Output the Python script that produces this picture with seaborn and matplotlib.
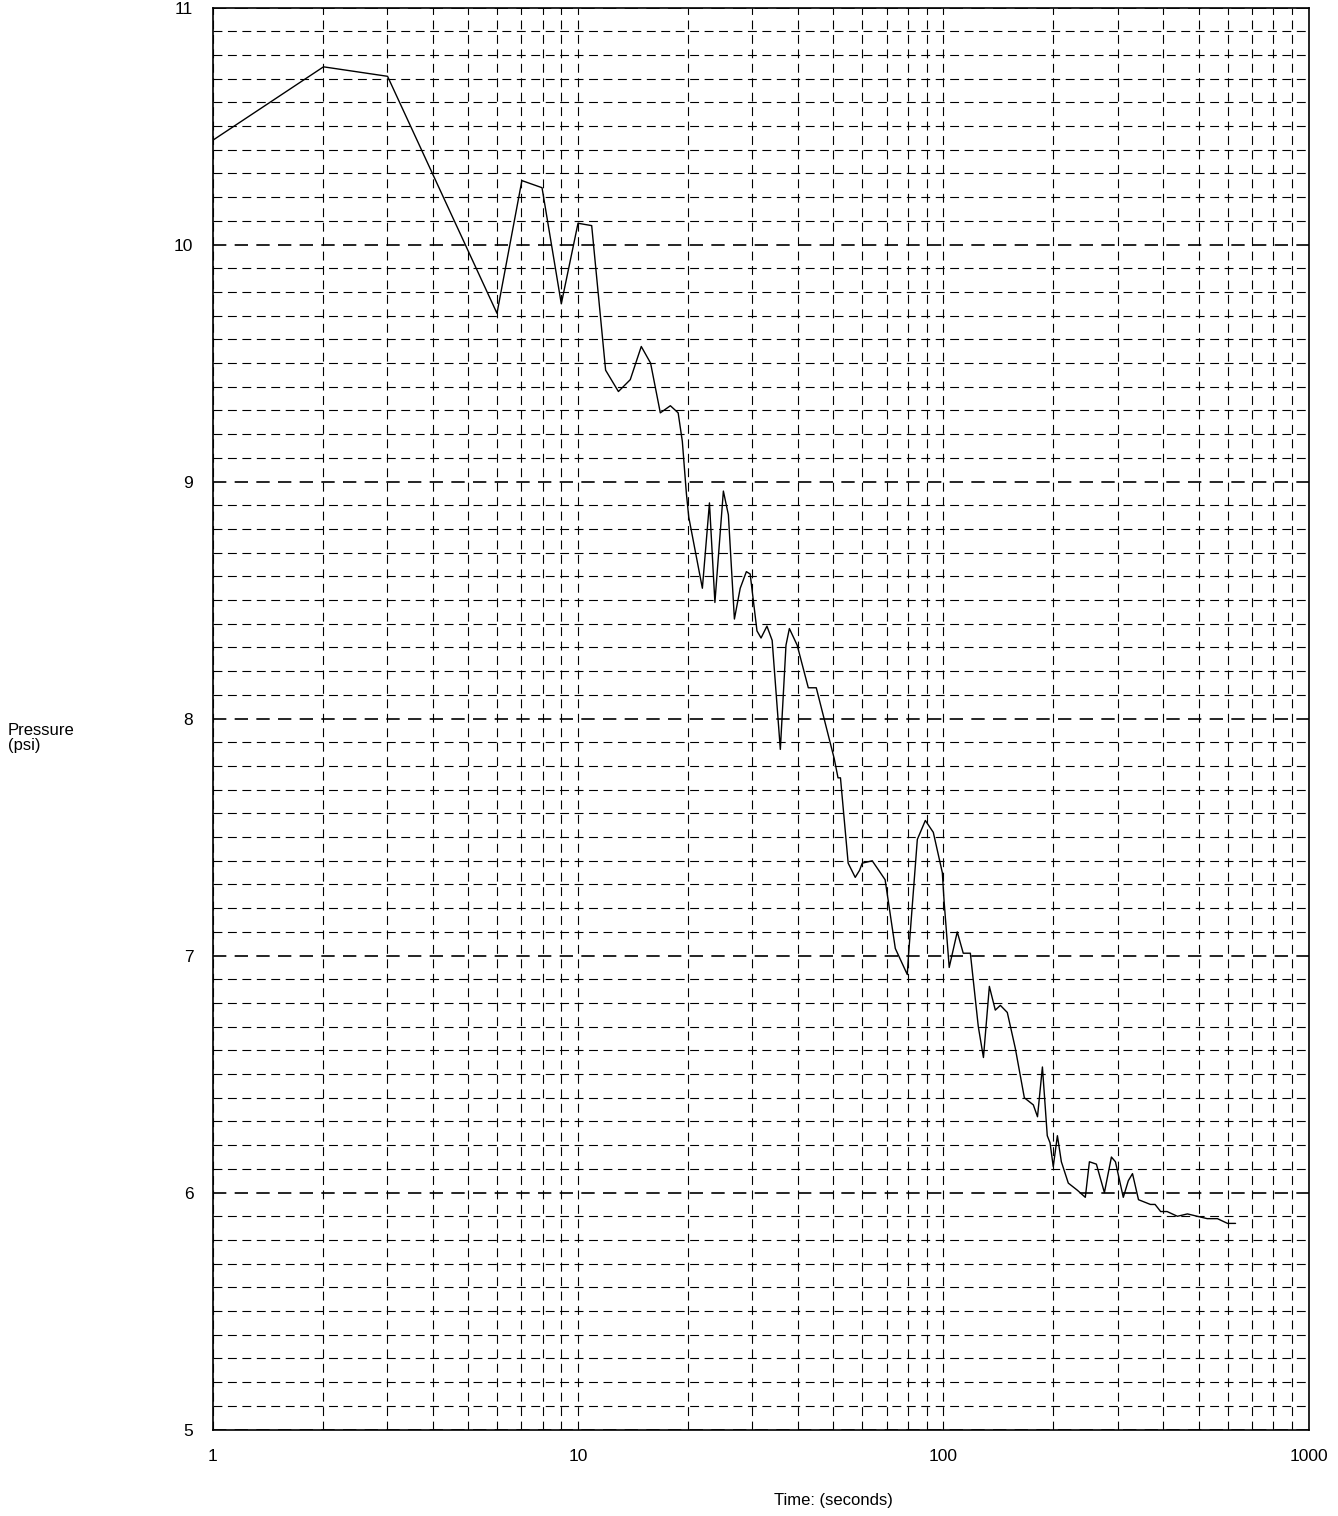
import numpy as np
import pandas as pd
import seaborn as sns
from matplotlib import pyplot as plt
from matplotlib.ticker import MultipleLocator, LogLocator, NullFormatter

# Pressure decay record
time_s = [1.0, 2.01, 3.01, 6.0, 7.02, 7.97, 9.0, 10.0, 10.9, 11.9, 12.9, 13.9, 14.9,
          15.8, 16.8, 17.9, 18.8, 19.3, 19.8, 20.1, 21.9, 22.9, 23.7, 25.0, 25.8,
          26.8, 27.8, 28.9, 29.6, 30.9, 31.7, 32.9, 34.0, 35.8, 37.1, 37.9, 39.8,
          42.7, 44.9, 50.3, 51.5, 52.3, 54.9, 57.4, 59.0, 60.0, 63.9, 69.3, 73.9,
          79.7, 80.3, 84.9, 89.3, 93.9, 99.4, 100.5, 103.8, 109.2, 113.4, 118.6,
          124.7, 128.8, 133.7, 138.8, 143.3, 149.7, 157.4, 166.7, 176.4, 181.1,
          186.8, 192.6, 196.0, 200.0, 205.3, 210.5, 219.9, 232.8, 244.8, 251.2,
          262.5, 276.1, 288.6, 296.0, 311.0, 321.0, 329.6, 342.3, 369.0, 380.0,
          393.6, 410.0, 437.5, 466.0, 496.0, 528.0, 563.0, 600.0, 631.0]
pressure_psi = [10.44, 10.75, 10.71, 9.71, 10.27, 10.24, 9.75, 10.09, 10.08, 9.47, 9.38,
                9.43, 9.57, 9.50, 9.29, 9.32, 9.29, 9.17, 8.95, 8.85, 8.55, 8.91, 8.49,
                8.96, 8.86, 8.42, 8.55, 8.62, 8.61, 8.37, 8.34, 8.39, 8.33, 7.87, 8.31,
                8.38, 8.31, 8.13, 8.13, 7.83, 7.75, 7.75, 7.39, 7.33, 7.36, 7.39, 7.40,
                7.32, 7.03, 6.92, 7.00, 7.49, 7.57, 7.52, 7.35, 7.23, 6.95, 7.10, 7.01,
                7.01, 6.70, 6.57, 6.87, 6.77, 6.79, 6.76, 6.61, 6.40, 6.37, 6.32, 6.53,
                6.24, 6.21, 6.11, 6.24, 6.13, 6.04, 6.01, 5.98, 6.13, 6.12, 6.00, 6.15,
                6.13, 5.98, 6.05, 6.08, 5.97, 5.95, 5.95, 5.92, 5.92, 5.90, 5.91, 5.90,
                5.89, 5.89, 5.87, 5.87]

x_ticks = [1, 10, 100, 1000]
x_tick_labels = ["1", "10", "100", "1000"]
y_ticks = [5, 6, 7, 8, 9, 10, 11]

df = pd.DataFrame({"Time": time_s, "Pressure": pressure_psi})

sns.set_style("white")
plt.rcParams['font.family'] = ['Liberation Sans', 'DejaVu Sans']
plt.rcParams['text.color'] = 'black'
plt.rcParams['xtick.color'] = 'black'
plt.rcParams['ytick.color'] = 'black'

fig = plt.figure(figsize=(13.38, 15.16), dpi=100)
ax = fig.add_axes([0.159, 0.057, 0.819, 0.938])

sns.lineplot(data=df, x="Time", y="Pressure", color="black", linewidth=1.0,
             sort=False, estimator=None, ax=ax)

ax.set_xscale("log")
ax.set_xlim(1, 1000)
ax.set_ylim(5, 11)

ax.set_xticks(x_ticks, labels=x_tick_labels)
ax.xaxis.set_minor_locator(LogLocator(base=10, subs=np.arange(2, 10)))
ax.xaxis.set_minor_formatter(NullFormatter())
ax.set_yticks(y_ticks, labels=[str(v) for v in y_ticks])
ax.yaxis.set_minor_locator(MultipleLocator(0.1))

dash = (0, (8, 5))
ax.grid(which="major", axis="y", color="black", linestyle=dash, linewidth=1.2)
ax.grid(which="major", axis="x", color="black", linestyle=dash, linewidth=0.8)
ax.grid(which="minor", color="black", linestyle=dash, linewidth=0.8)
ax.set_axisbelow(True)

ax.tick_params(which="both", length=0, labelsize=12.5, pad=14, labelcolor="black")
for s in ax.spines.values():
    s.set_color("black")
    s.set_linewidth(1.2)

ax.set_xlabel(None)
ax.set_ylabel(None)
fig.text(0.623, 0.0105, "Time: (seconds)", fontsize=12, ha="center", va="center",
         color="black")
fig.text(0.006, 0.513, "Pressure\n(psi)", fontsize=12, ha="left", va="center",
         linespacing=1.0, color="black")

plt.savefig("out.png", dpi=100)
